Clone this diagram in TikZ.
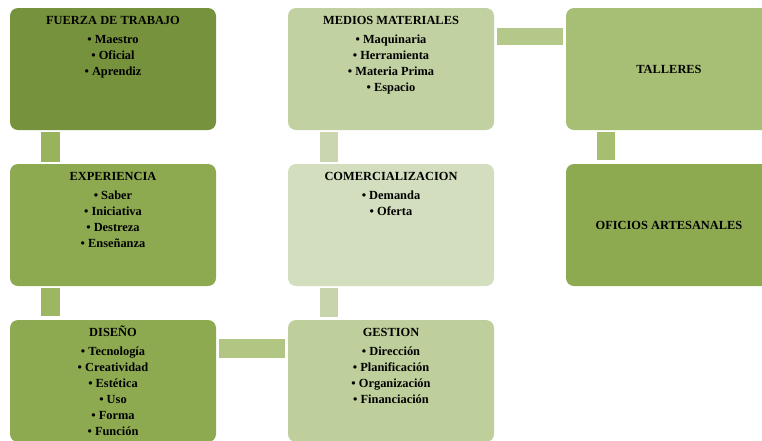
\documentclass[tikz,border=0pt]{standalone}
\usepackage{fontspec}
\setmainfont{Liberation Serif}
\usetikzlibrary{positioning}

\definecolor{oliva1}{RGB}{118,146,60}
\definecolor{oliva2}{RGB}{142,170,81}
\definecolor{oliva3}{RGB}{167,191,116}
\definecolor{oliva4}{RGB}{191,207,155}
\definecolor{oliva5}{RGB}{194,209,161}
\definecolor{oliva6}{RGB}{211,222,190}
\definecolor{une14}{RGB}{152,179,92}
\definecolor{une47}{RGB}{156,182,98}
\definecolor{une78}{RGB}{176,198,130}
\definecolor{une23}{RGB}{180,200,138}
\definecolor{une36}{RGB}{165,190,112}
\definecolor{une25}{RGB}{202,214,176}
\definecolor{une58}{RGB}{200,213,172}

\newcommand{\titulocaja}[1]{\vphantom{Ñ}#1\\[1.8pt]}

\tikzset{every picture/.style={line width=0.75pt}}
\tikzset{
  caja/.style={rectangle, rounded corners=6pt, inner sep=0pt,
    minimum width=154.5pt, minimum height=91.5pt},
  texto/.style={anchor=north, align=center, inner sep=0pt,
    font=\bfseries\fontsize{9.3}{12.1}\selectfont}
}

\begin{document}
\begin{tikzpicture}[x=0.75pt,y=0.75pt,yscale=-1,xscale=1]
\clip (0,0) rectangle (762,440);
\useasboundingbox (0,0) rectangle (762,440);

% Cajas
\node[caja, fill=oliva1] (fuerza) at (113,69) {};
\node[caja, fill=oliva5] (medios) at (391,69) {};
\node[caja, fill=oliva3] (talleres) at (669,69) {};
\node[caja, fill=oliva2] (experiencia) at (113,225) {};
\node[caja, fill=oliva6] (comercial) at (391,225) {};
\node[caja, fill=oliva2] (oficios) at (669,225) {};
\node[caja, fill=oliva2] (diseno) at (113,381) {};
\node[caja, fill=oliva4] (gestion) at (391,381) {};

% Uniones (yscale=-1: yshift positivo baja)
\fill[une14] ([xshift=23.25pt,yshift=0.75pt]fuerza.south west) rectangle ([xshift=37.5pt,yshift=-1.5pt]experiencia.north west);
\fill[une47] ([xshift=23.25pt,yshift=0.75pt]experiencia.south west) rectangle ([xshift=37.5pt,yshift=-3pt]diseno.north west);
\fill[une25] ([xshift=24pt,yshift=0.75pt]medios.south west) rectangle ([xshift=37.5pt,yshift=-1.5pt]comercial.north west);
\fill[une58] ([xshift=24pt,yshift=0.75pt]comercial.south west) rectangle ([xshift=37.5pt,yshift=-2.25pt]gestion.north west);
\fill[une36] ([xshift=23.25pt,yshift=0.75pt]talleres.south west) rectangle ([xshift=36.75pt,yshift=-3pt]oficios.north west);
\fill[une23] ([xshift=1.5pt,yshift=15pt]medios.north east) rectangle ([xshift=-2.25pt,yshift=27.75pt]talleres.north west);
\fill[une78] ([xshift=1.5pt,yshift=14.25pt]diseno.north east) rectangle ([xshift=-2.25pt,yshift=28.5pt]gestion.north west);

% Textos
\node[texto] (tfuerza) at ([yshift=4.5pt]fuerza.north) {\titulocaja{FUERZA DE TRABAJO}• Maestro\\• Oficial\\• Aprendiz};
\node[texto] (tmedios) at ([yshift=4.5pt]medios.north) {\titulocaja{MEDIOS MATERIALES}• Maquinaria\\• Herramienta\\• Materia Prima\\• Espacio};
\node[texto, anchor=center] (ttalleres) at (talleres) {TALLERES};
\node[texto] (texperiencia) at ([yshift=4.5pt]experiencia.north) {\titulocaja{EXPERIENCIA}• Saber\\• Iniciativa\\• Destreza\\• Enseñanza};
\node[texto] (tcomercial) at ([yshift=4.5pt]comercial.north) {\titulocaja{COMERCIALIZACION}• Demanda\\• Oferta};
\node[texto, anchor=center] (toficios) at (oficios) {OFICIOS ARTESANALES};
\node[texto] (tdiseno) at ([yshift=4.5pt]diseno.north) {\titulocaja{DISEÑO}• Tecnología\\• Creatividad\\• Estética\\• Uso\\• Forma\\• Función};
\node[texto] (tgestion) at ([yshift=4.5pt]gestion.north) {\titulocaja{GESTION}• Dirección\\• Planificación\\• Organización\\• Financiación};

\end{tikzpicture}
\end{document}
